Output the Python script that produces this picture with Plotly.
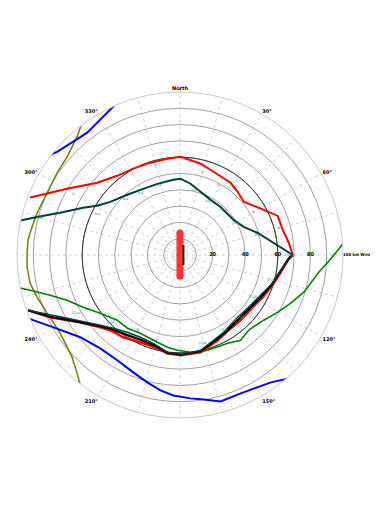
import plotly.graph_objects as go

# ---- Data ----
RED_UP_T = [291, 300.4, 311.1, 321.6, 331.6, 342.2, 352.6, 0.3, 12.7, 22.0, 35.0, 42.4, 50.1, 61.7, 68.2, 76.3, 83.7, 90]
RED_UP_R = [98.5, 80.3, 67.4, 62.0, 60.2, 59.5, 59.6, 60.3, 57.4, 55.1, 54.1, 52.5, 50.9, 58.4, 64.6, 64.9, 67.2, 69.2]
RED_LO_T = [90, 92.7, 99.6, 106.7, 117.0, 125.6, 137.0, 148.0, 156.2, 168.1, 179.7, 187.3, 193.6, 202.5, 208.7, 214.6, 222.8, 227.8, 236.0, 244.4, 250.0]
RED_LO_R = [69.2, 66.2, 62.7, 60.1, 57.0, 54.9, 54.6, 55.1, 57.2, 61.0, 61.5, 60.8, 58.9, 58.6, 59.6, 61.3, 62.9, 66.0, 73.8, 88.4, 99.2]

TEAL_UP_T = [280.7, 284.9, 289.4, 296.0, 300.7, 307.3, 318.8, 328.7, 342.4, 355.0, 0.4, 8.4, 18.0, 29.0, 40.2, 56.8, 66.2, 74.2, 82.7, 90]
TEAL_UP_R = [106.2, 90.8, 78.0, 66.1, 59.1, 53.8, 49.1, 46.8, 45.8, 46.3, 46.8, 44.2, 40.8, 38.7, 38.6, 39.3, 42.7, 49.6, 58.0, 69.2]
TEAL_LO_T = [90, 91, 98.5, 108.3, 119.0, 128.1, 137.2, 150.5, 158.5, 167.8, 178, 187.3, 196.8, 205.7, 214.3, 222.3, 228.6, 240.7, 250]
TEAL_LO_R = [69.2, 68.0, 62.5, 58.7, 54.5, 52.8, 52.0, 54.4, 56.2, 59.8, 61.0, 60.2, 56.6, 56.0, 57.4, 60.8, 65.2, 79.3, 99.2]

BLACK_LO_T = [90, 91, 99, 107.5, 118, 127, 137, 149, 157.5, 168, 179, 187.3, 195, 204, 212, 222.5, 228.2, 238, 244.5, 250]
BLACK_LO_R = [69.2, 67.5, 62.5, 59.3, 55.8, 53.8, 53.3, 54.8, 56.7, 60.4, 61.2, 60.5, 57.8, 57.3, 58.5, 61.8, 65.6, 76.5, 88, 99.2]

GREEN_T = [80.0, 83.9, 88.2, 92.7, 97.0, 102.1, 106.7, 113.5, 120.3, 127.9, 134.8, 137.6, 144.6, 151.6, 160.2, 168.1, 173.8, 181.5, 187.7, 194.5, 206.9, 215.7, 223.9, 233.9, 241.7, 248.2, 252.8, 256.8, 259.5]
GREEN_R = [110.3, 103.7, 97.0, 90.9, 85.9, 82.1, 79.3, 74.1, 69.5, 65.1, 62.9, 62.5, 64.2, 61.5, 60.8, 61.0, 60.0, 58.5, 57.1, 55.3, 53.8, 55.3, 55.5, 60.6, 67.5, 74.6, 83.4, 94.5, 104.8]

BLUE_UP_T = [299.9, 305.4, 310.0, 316.7, 322.8, 329.5, 335.8, 340.3, 344.6]
BLUE_UP_R = [109.7, 103.1, 98.5, 95.5, 94.2, 96.4, 99.9, 103.3, 107.9]
BLUE_LO_T = [250.0, 246.1, 240.4, 230.5, 220.5, 210.8, 201.7, 194.4, 188.2, 182.7, 175.8, 170.7, 164.5, 156.3, 144.5, 135.6]
BLUE_LO_R = [106.4, 98.6, 89.6, 79.3, 75.3, 75.2, 77.5, 80.7, 83.9, 86.3, 88.2, 89.8, 93.2, 92.7, 96.0, 104.2]

OLIVE_T = [329.2, 324.4, 319.0, 311.1, 303.8, 295.1, 286.4, 280.7, 275.7, 270.8, 265.5, 259.4, 253.6, 246.4, 240.6, 236.9, 230.7, 226.5, 221.0, 215.4, 211.3, 205.4]
OLIVE_R = [107.5, 102.1, 96.2, 91.8, 90.7, 90.0, 91.4, 92.4, 93.7, 93.8, 94.1, 93.6, 91.4, 89.0, 87.9, 87.8, 89.4, 91.2, 96.2, 103.5, 105.9, 111.1]

CENTER_BAR_T = [0, 0, 180]
CENTER_BAR_R = [13.5, 0, 13]
CENTER_SEG_T = [19, 161]
CENTER_SEG_R = [6.5, 6.5]

REF_CIRCLE_R = 60
REF_CIRCLE_T = list(range(0, 361, 3))

TEAL_LBL_T = [284.9, 296.4, 315.8, 327.5, 342.9, 13.4, 27.8, 43.4, 60.0, 75.5, 90, 105.4, 120.1, 135.7, 149.9, 165.7, 180.9, 197.3, 210.7, 226.0, 240.9]
TEAL_LBL_R = [88.8, 56.7, 48.1, 45.2, 45.1, 41.1, 37.6, 38.1, 39.4, 49.3, 66.2, 57.8, 51.6, 53.3, 53.4, 55.9, 58.5, 54.8, 53.7, 59.4, 73.5]
TEAL_LBL = ["9/4", "9/4", "9/4", "9/4", "9/4", "10/4", "10/4", "10/4", "10/4", "10/4", "10/4",
            "11/4", "11/4", "11/4", "11/4", "11/4", "12/4", "12/4", "12/4", "12/4", "12/4"]
RED_LBL_T = [299.8, 315.2, 329.6, 344.8, 15.2, 28.8, 44.2, 59.7, 74.7]
RED_LBL_R = [75.5, 62.9, 57.8, 57.4, 52.9, 49.2, 49.0, 52.4, 62.9]
RED_LBL = ["1", "2", "3", "4", "5", "6", "7", "8", "9"]

ANG_TICKS = list(range(0, 360, 15))
ANG_TEXT = {0: "North", 30: "30°", 60: "60°", 120: "120°", 150: "150°",
            210: "210°", 240: "240°", 300: "300°", 330: "330°"}
RAD_GRID = [10, 20, 30, 40, 50, 60, 70, 80, 90, 100]
RAD_LBL_R = [20, 40, 60, 80, 100]
RAD_LBL = ["20", "40", "60", "80", "100 km Wind"]

fig = go.Figure()

def line(t, r, color, width, **kw):
    fig.add_trace(go.Scatterpolar(theta=t, r=r, mode="lines", cliponaxis=False,
                                  line=dict(color=color, width=width), hoverinfo="skip", **kw))

line(REF_CIRCLE_T, [REF_CIRCLE_R] * len(REF_CIRCLE_T), "#333333", 1)
line(OLIVE_T, OLIVE_R, "#7a7a00", 1.5)
line(BLUE_UP_T, BLUE_UP_R, "#0000ff", 2)
line(BLUE_LO_T, BLUE_LO_R, "#0000ff", 2)
line(GREEN_T, GREEN_R, "#008000", 1.6)
line(RED_UP_T, RED_UP_R, "#ff0000", 2)
line(RED_LO_T, RED_LO_R, "#ff0000", 2.5)
line(BLACK_LO_T, BLACK_LO_R, "#000000", 2.2)
line(TEAL_UP_T, TEAL_UP_R, "#003c3c", 2)
line(TEAL_LO_T, TEAL_LO_R, "#003c3c", 1.4)

# centre marker
fig.add_trace(go.Scatterpolar(theta=CENTER_BAR_T, r=CENTER_BAR_R, mode="lines+markers", cliponaxis=False,
                              line=dict(color="#ff3333", width=7),
                              marker=dict(color="#ff3333", size=7, line=dict(width=0)), hoverinfo="skip"))
line(CENTER_SEG_T, CENTER_SEG_R, "#0a3a0a", 2)

# small annotations along tracks
fig.add_trace(go.Scatterpolar(theta=TEAL_LBL_T, r=TEAL_LBL_R, mode="text", text=TEAL_LBL, cliponaxis=False,
                              textfont=dict(size=3.5, color="#2f8f8f", family="DejaVu Sans"), hoverinfo="skip"))
fig.add_trace(go.Scatterpolar(theta=RED_LBL_T, r=RED_LBL_R, mode="text", text=RED_LBL, cliponaxis=False,
                              textfont=dict(size=3.5, color="#ff3030", family="DejaVu Sans"), hoverinfo="skip"))
# radial labels along the east axis
fig.add_trace(go.Scatterpolar(theta=[90] * len(RAD_LBL_R), r=RAD_LBL_R, mode="text", text=RAD_LBL, cliponaxis=False,
                              textposition=["middle center"] * 4 + ["middle right"],
                              textfont=dict(size=[5.5, 5.5, 5.5, 5.5, 4.3], color="#000000",
                                            family="DejaVu Sans Condensed, DejaVu Sans", weight="bold"),
                              hoverinfo="skip"))

# the page body has an 8px margin, so the polar domain is shifted 8px up/left
W, H = 378, 505
fig.update_layout(
    width=W, height=H,
    margin=dict(l=0, r=0, t=0, b=0),
    paper_bgcolor="white",
    showlegend=False,
    polar=dict(
        domain=dict(x=[9 / W, 335 / W], y=[95 / H, 421 / H]),
        bgcolor="white",
        angularaxis=dict(rotation=90, direction="clockwise",
                         tickmode="array", tickvals=ANG_TICKS,
                         ticktext=[ANG_TEXT.get(a, "") for a in ANG_TICKS],
                         ticks="", showline=True, linecolor="#c8c8c8", linewidth=1,
                         gridcolor="#d0d0d0", griddash="dot", gridwidth=1,
                         tickfont=dict(size=5, color="#000000", family="DejaVu Sans", weight="bold")),
        radialaxis=dict(range=[0, 100], tickmode="array", tickvals=RAD_GRID,
                        showticklabels=False, ticks="", showline=False,
                        gridcolor="#a0a0a0", gridwidth=1),
    ),
)

fig.write_html("out.html")
